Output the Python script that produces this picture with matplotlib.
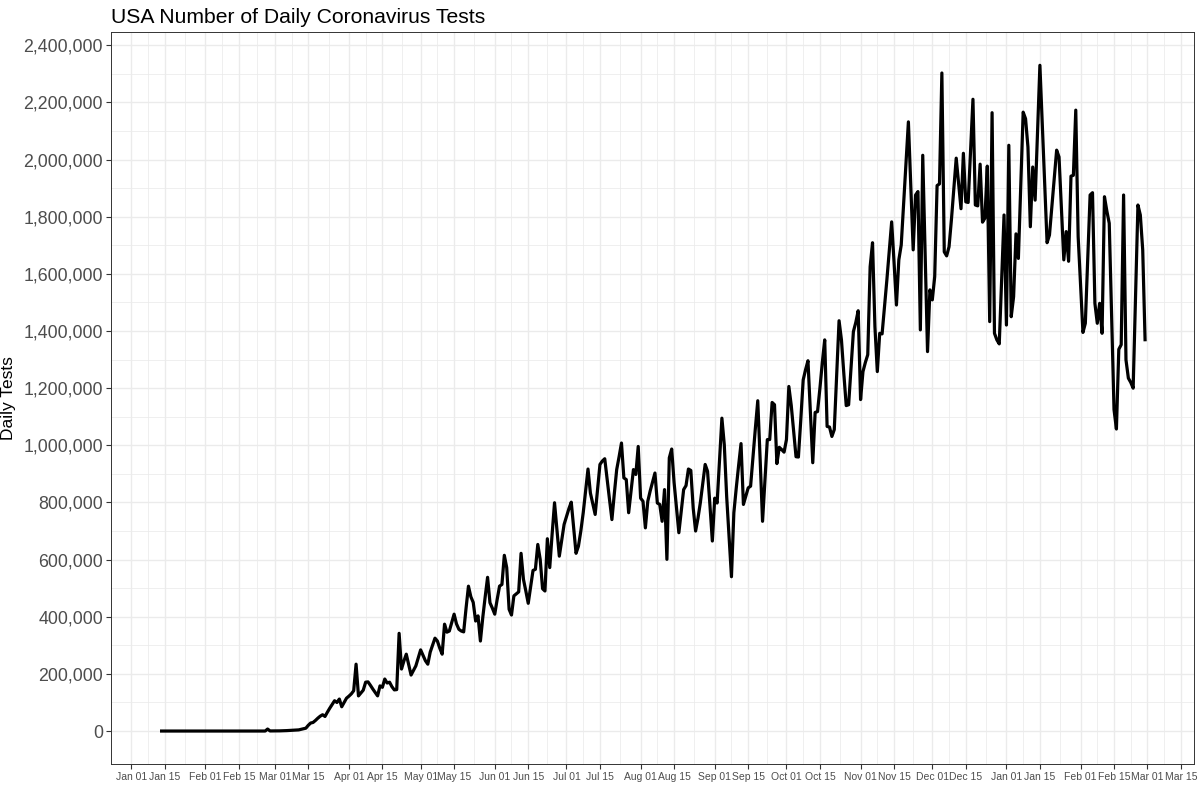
import numpy as np
import pandas as pd
import matplotlib
matplotlib.use("Agg")
import matplotlib.pyplot as plt
import matplotlib.dates as mdates
from matplotlib.ticker import FuncFormatter, FixedLocator, MultipleLocator

plt.rcParams['font.family'] = ['Liberation Sans', 'DejaVu Sans']

# daily tests, in thousands, first day 2020-01-13
start_date = "2020-01-13"

tests_jan_2020 = [0, 0, 0, 0, 0, 0, 0, 0, 0, 0, 0, 0, 0, 0, 0, 0, 0, 0, 0]
tests_feb_2020 = [0, 0, 0, 0, 0, 0, 0, 0, 0, 0, 0, 0, 0, 0, 0, 0, 0, 0, 0, 0,
                  0, 0, 0, 0, 0, 0, 7, 0.3, 0.5]
tests_mar_2020 = [0.5, 0.4, 0.6, 0.8, 1.1, 1.5, 2, 2.5, 3, 3.5, 4, 6, 8, 10, 20,
                  28, 30, 37, 45, 52, 57, 51, 66, 80, 93, 106, 100, 112, 85, 100, 115]
tests_apr_2020 = [122, 130, 141, 234, 123, 133, 143, 171, 172, 160, 147, 135, 123, 158, 153,
                  182, 168, 171, 155, 144, 145, 342, 217, 245, 269, 232, 196, 212, 228, 256]
tests_may_2020 = [284, 265, 246, 234, 276, 300, 325, 315, 290, 269, 374, 346, 350, 380, 409,
                  375, 356, 350, 347, 430, 507, 470, 450, 385, 403, 315, 398, 470, 538, 449, 430]
tests_jun_2020 = [409, 460, 507, 513, 615, 572, 426, 406, 473, 480, 487, 622, 531, 490, 447,
                  505, 562, 566, 653, 601, 498, 490, 673, 572, 690, 799, 705, 612, 668, 723]
tests_jul_2020 = [750, 778, 801, 710, 622, 647, 700, 764, 840, 917, 833, 795, 758, 845, 933,
                  945, 953, 880, 810, 740, 830, 915, 960, 1008, 886, 880, 764, 840, 915, 898, 996]
tests_aug_2020 = [815, 804, 711, 804, 840, 872, 903, 798, 793, 734, 845, 601, 956, 987, 870,
                  780, 694, 770, 845, 859, 917, 912, 780, 700, 745, 800, 865, 933, 909, 790, 665]
tests_sep_2020 = [815, 798, 950, 1095, 1002, 820, 680, 540, 764, 850, 930, 1006, 793, 822, 851,
                  857, 960, 1060, 1156, 950, 734, 880, 1020, 1020, 1150, 1142, 936, 993, 985, 976]
tests_oct_2020 = [1020, 1206, 1140, 1050, 960, 959, 1090, 1229, 1265, 1296, 1120, 939, 1115, 1118, 1200,
                  1290, 1369, 1066, 1064, 1031, 1055, 1250, 1436, 1369, 1250, 1139, 1142, 1270, 1398, 1430, 1471]
tests_nov_2020 = [1160, 1258, 1290, 1317, 1625, 1709, 1415, 1258, 1392, 1390, 1485, 1579, 1680, 1782, 1640,
                  1491, 1649, 1701, 1845, 1990, 2132, 1910, 1684, 1876, 1888, 1404, 2015, 1670, 1328, 1544]
tests_dec_2020 = [1509, 1590, 1909, 1915, 2303, 1677, 1663, 1695, 1790, 1900, 2005, 1915, 1828, 2022, 1852,
                  1850, 2030, 2211, 1841, 1838, 1984, 1781, 1795, 1977, 1433, 2164, 1392, 1369, 1355, 1580, 1806]
tests_jan_2021 = [1421, 2050, 1450, 1520, 1740, 1654, 1910, 2166, 2143, 2044, 1765, 1974, 1858, 2094, 2330,
                  2120, 1915, 1709, 1736, 1835, 1935, 2033, 2009, 1830, 1649, 1748, 1644, 1942, 1945, 2173, 1730]
tests_feb_2021 = [1560, 1395, 1427, 1650, 1876, 1884, 1497, 1427, 1497, 1392, 1870, 1820, 1777, 1450,
                  1125, 1057, 1336, 1352, 1876, 1299, 1235, 1220, 1200, 1520, 1841, 1806, 1684, 1364]

daily_tests = np.array(tests_jan_2020 + tests_feb_2020 + tests_mar_2020 + tests_apr_2020 +
                       tests_may_2020 + tests_jun_2020 + tests_jul_2020 + tests_aug_2020 +
                       tests_sep_2020 + tests_oct_2020 + tests_nov_2020 + tests_dec_2020 +
                       tests_jan_2021 + tests_feb_2021) * 1000
dates = pd.date_range(start_date, periods=len(daily_tests), freq="D")

fig = plt.figure(figsize=(12, 8), dpi=100)
ax = fig.add_axes([0.0923, 0.0446, 0.9030, 0.9154])

ax.plot(dates, daily_tests, color="black", linewidth=2.3, solid_capstyle="butt", zorder=3)

# ggplot-like 5% expansion
x0 = mdates.date2num(dates[0])
x1 = mdates.date2num(dates[-1])
pad_x = (x1 - x0) * 0.05
ax.set_xlim(x0 - pad_x, x1 + pad_x)
pad_y = daily_tests.max() * 0.05
ax.set_ylim(-pad_y, daily_tests.max() + pad_y)

# x breaks: 1st and 15th of each month, minor breaks half way between
major_dates = []
for m in pd.date_range("2020-01-01", "2021-03-01", freq="MS"):
    major_dates.append(m)
    major_dates.append(m + pd.Timedelta(days=14))
major_num = mdates.date2num(major_dates)
minor_num = (major_num[:-1] + major_num[1:]) / 2
ax.xaxis.set_major_locator(FixedLocator(major_num))
ax.xaxis.set_minor_locator(FixedLocator(minor_num))
ax.xaxis.set_major_formatter(mdates.DateFormatter("%b %d"))

ax.yaxis.set_major_locator(MultipleLocator(200000))
ax.yaxis.set_minor_locator(FixedLocator(np.arange(100000, 2400000, 200000)))
ax.yaxis.set_major_formatter(FuncFormatter(lambda v, p: f"{int(v):,}"))

ax.grid(which="major", color="#EBEBEB", linewidth=1.0)
ax.grid(which="minor", color="#EBEBEB", linewidth=0.55)
ax.set_axisbelow(True)

for s in ax.spines.values():
    s.set_color("#333333")
    s.set_linewidth(0.7)

ax.tick_params(which="major", length=3.8, width=0.8, color="#333333", labelcolor="#4D4D4D")
ax.tick_params(which="minor", length=0)
ax.tick_params(axis="x", labelsize=7.5, pad=2)
ax.tick_params(axis="y", labelsize=12.8, pad=1.8)

ax.set_title("USA Number of Daily Coronavirus Tests", loc="left", fontsize=15.2, pad=6.5, color="black")
ax.set_ylabel("Daily Tests", fontsize=12.5, labelpad=5, color="black")

fig.savefig("out.png", dpi=100)
